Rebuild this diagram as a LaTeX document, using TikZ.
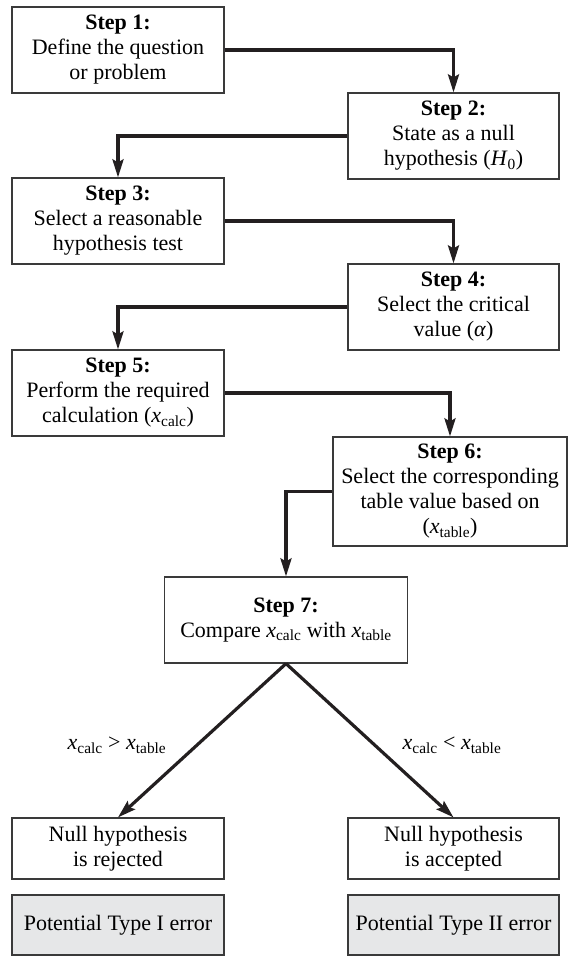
\documentclass[tikz,border=0pt]{standalone}
\usepackage{fontspec}
\setmainfont{Liberation Serif}
\usetikzlibrary{arrows.meta}
\newcommand\xsub[2]{\textit{#1}\textsubscript{#2}}
\definecolor{boxline}{HTML}{3A3A3A}
\definecolor{conncol}{HTML}{231F20}
\definecolor{greyfill}{HTML}{E6E7E8}
\tikzset{
  stepbox/.style={draw=boxline, line width=1.2pt, align=center, inner sep=0pt,
    font=\fontsize{22}{25}\selectfont},
  lbl/.style={align=center, inner sep=0pt, font=\fontsize{22}{25}\selectfont},
  conn/.style={draw=conncol, line width=3.2pt,
    -{Stealth[length=18pt,width=11pt,inset=3pt]}}
}
\begin{document}
\begin{tikzpicture}[x=1pt,y=-1pt]
\useasboundingbox (0,0) rectangle (568,956);
\node[stepbox, minimum width=212pt, minimum height=86pt] (s1) at (118,50)
  {\textbf{Step 1:}\\Define the question\\or problem};
\node[stepbox, minimum width=211pt, minimum height=86pt] (s2) at (453.5,136)
  {\textbf{Step 2:}\\State as a null\\hypothesis (\xsub{H}{0})};
\node[stepbox, minimum width=212pt, minimum height=86pt] (s3) at (118,221)
  {\textbf{Step 3:}\\Select a reasonable\\hypothesis test};
\node[stepbox, minimum width=211pt, minimum height=86pt] (s4) at (453.5,307)
  {\textbf{Step 4:}\\Select the critical\\value (\textit{α})};
\node[stepbox, minimum width=212pt, minimum height=86pt] (s5) at (118,393)
  {\textbf{Step 5:}\\Perform the required\\calculation (\xsub{x}{calc})};
\node[stepbox, minimum width=234pt, minimum height=109pt] (s6) at (450,491.5)
  {\textbf{Step 6:}\\Select the corresponding\\table value based on\\(\xsub{x}{table})};
\node[stepbox, minimum width=243pt, minimum height=86pt] (s7) at (286,620)
  {\textbf{Step 7:}\\Compare \xsub{x}{calc} with \xsub{x}{table}};
\node[stepbox, minimum width=212pt, minimum height=61pt] (n1) at (118,848.5)
  {Null hypothesis\\is rejected};
\node[stepbox, minimum width=211pt, minimum height=61pt] (n2) at (453.5,848.5)
  {Null hypothesis\\is accepted};
\node[stepbox, fill=greyfill, minimum width=212pt, minimum height=60pt] (p1) at (118,925)
  {Potential Type I error};
\node[stepbox, fill=greyfill, minimum width=211pt, minimum height=60pt] (p2) at (453.5,925)
  {Potential Type II error};
\node[lbl] (l1) at (117,745) {\xsub{x}{calc} > \xsub{x}{table}};
\node[lbl] (l2) at (452,745) {\xsub{x}{calc} < \xsub{x}{table}};
\draw[conn] (s1.east) -| (s2.north);
\draw[conn] (s2.west) -| (s3.north);
\draw[conn] (s3.east) -| (s4.north);
\draw[conn] (s4.west) -| (s5.north);
\draw[conn] (s5.east) -| (s6.north);
\draw[conn] (s6.west) -| (s7.north);
\draw[conn] (s7.south) -- (n1.north);
\draw[conn] (s7.south) -- (n2.north);
\end{tikzpicture}
\end{document}
